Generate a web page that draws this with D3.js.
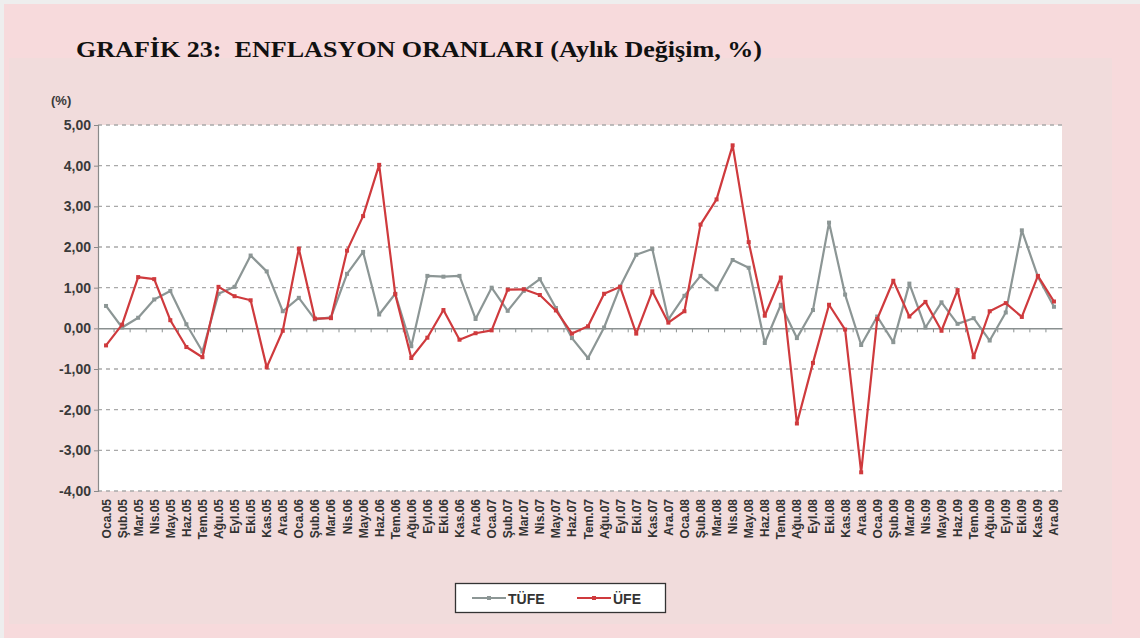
<!DOCTYPE html>
<html><head><meta charset="utf-8">
<script src="https://cdn.jsdelivr.net/npm/d3@7"></script>
<style>html,body{margin:0;padding:0;background:#eeeeee;}svg{display:block;}</style>
</head><body>
<svg id="c" width="1140" height="638"></svg>
<script>
const months = ["Oca","Şub","Mar","Nis","May","Haz","Tem","Ağu","Eyl","Eki","Kas","Ara"];
const years = ["05","06","07","08","09"];
const categories = [];
years.forEach(y => months.forEach(m => categories.push(m + "." + y)));

const tufe = [0.55,0.02,0.26,0.71,0.92,0.10,-0.57,0.85,1.02,1.79,1.40,0.42,
              0.75,0.22,0.27,1.34,1.88,0.34,0.85,-0.44,1.29,1.27,1.29,0.23,
              1.00,0.43,0.92,1.21,0.50,-0.24,-0.73,0.02,1.03,1.81,1.95,0.22,
              0.80,1.29,0.96,1.68,1.49,-0.36,0.58,-0.24,0.45,2.60,0.83,-0.41,
              0.29,-0.34,1.10,0.02,0.64,0.11,0.25,-0.30,0.39,2.41,1.27,0.53];
const ufe  = [-0.42,0.09,1.26,1.21,0.20,-0.46,-0.71,1.02,0.79,0.69,-0.96,-0.06,
              1.96,0.24,0.25,1.91,2.76,4.02,0.84,-0.73,-0.23,0.45,-0.28,-0.12,
              -0.05,0.95,0.96,0.82,0.44,-0.13,0.05,0.85,1.02,-0.13,0.91,0.14,
              0.42,2.55,3.17,4.50,2.12,0.31,1.25,-2.34,-0.85,0.58,-0.03,-3.54,
              0.23,1.17,0.29,0.65,-0.06,0.94,-0.71,0.42,0.62,0.28,1.29,0.66];
const yTicks = [5,4,3,2,1,0,-1,-2,-3,-4];
const seriesNames = ["TÜFE","ÜFE"];
const seriesColors = ["#8c9695","#cf3a3d"];

const svg = d3.select("#c");
svg.append("rect").attr("x",4).attr("y",4).attr("width",1136).attr("height",634).attr("fill","#f7dadc");
svg.append("rect").attr("x",9).attr("y",58).attr("width",1103).attr("height",566).attr("fill","#f1dcdc");

svg.append("text").attr("x",76).attr("y",57)
  .attr("font-family","'Liberation Serif','Times New Roman',serif").attr("font-weight","bold")
  .attr("font-size",24).attr("fill","#111").style("white-space","pre")
  .attr("textLength",686).attr("lengthAdjust","spacingAndGlyphs")
  .text("GRAFİK 23:  ENFLASYON ORANLARI (Aylık Değişim, %)");

const L = 98, R = 1062, T = 125, B = 491;
const x = d3.scaleBand().domain(categories).range([L, R]);
const y = d3.scaleLinear().domain([-4, 5]).range([B, T]);

svg.append("rect").attr("x",L).attr("y",T).attr("width",R-L).attr("height",B-T).attr("fill","#ffffff");

svg.append("g").selectAll("line").data(yTicks.filter(d => d !== 0)).join("line")
  .attr("x1",L).attr("x2",R).attr("y1",d=>y(d)).attr("y2",d=>y(d))
  .attr("stroke","#a9a9a9").attr("stroke-width",1.3).attr("stroke-dasharray","4,4");

const yAxis = d3.axisLeft(y).tickValues(yTicks).tickSize(4).tickPadding(3)
  .tickFormat(d => d.toFixed(2).replace(".", ","));
const gy = svg.append("g").attr("transform",`translate(${L},0)`).call(yAxis);
gy.select(".domain").attr("stroke","#8a8a8a").attr("stroke-width",1.2);
gy.selectAll(".tick line").attr("stroke","#8a8a8a");
gy.selectAll("text").attr("font-family","Arial, 'Liberation Sans', sans-serif").attr("font-size",14)
  .attr("font-weight","bold").attr("fill","#3a3a3a");

svg.append("text").attr("x",51).attr("y",105).text("(%)")
  .attr("font-family","Arial, 'Liberation Sans', sans-serif").attr("font-size",13).attr("font-weight","bold").attr("fill","#3a3a3a");

const xAxis = d3.axisBottom(x).tickSize(0).tickFormat("");
const gx0 = svg.append("g").attr("transform",`translate(0,${y(0)})`).call(xAxis);
gx0.select(".domain").attr("stroke","#8a9090").attr("stroke-width",1.5);
svg.append("g").selectAll("line").data(categories.slice(1)).join("line")
  .attr("x1",d=>x(d)).attr("x2",d=>x(d)).attr("y1",y(0)).attr("y2",y(0)+4)
  .attr("stroke","#8a9090").attr("stroke-width",1);

const gxl = svg.append("g");
gxl.selectAll("text").data(categories).join("text")
  .attr("transform", d => `translate(${x(d)+x.bandwidth()/2+4.5},${B+8}) rotate(-90)`)
  .attr("text-anchor","end")
  .attr("font-family","Arial, 'Liberation Sans', sans-serif").attr("font-size",12).attr("font-weight","bold")
  .attr("fill","#333").text(d => d);

const data = [tufe, ufe];
const line = d3.line().x((d,i)=>x(categories[i])+x.bandwidth()/2).y(d=>y(d));
data.forEach((s, k) => {
  svg.append("path").datum(s).attr("d", line).attr("fill","none")
    .attr("stroke", seriesColors[k]).attr("stroke-width",2.2).attr("stroke-linejoin","round");
  svg.append("g").selectAll("rect").data(s).join("rect")
    .attr("x",(d,i)=>x(categories[i])+x.bandwidth()/2-2).attr("y",d=>y(d)-2)
    .attr("width",4).attr("height",4).attr("fill", seriesColors[k]);
});

const lg = svg.append("g");
lg.append("rect").attr("x",455.5).attr("y",583.5).attr("width",210).attr("height",29)
  .attr("fill","#ffffff").attr("stroke","#333").attr("stroke-width",1.3);
const legX = [472, 577];
seriesNames.forEach((n,k) => {
  lg.append("line").attr("x1",legX[k]).attr("x2",legX[k]+34).attr("y1",598).attr("y2",598)
    .attr("stroke",seriesColors[k]).attr("stroke-width",2);
  lg.append("rect").attr("x",legX[k]+15).attr("y",596).attr("width",4).attr("height",4).attr("fill",seriesColors[k]);
  lg.append("text").attr("x",legX[k]+36).attr("y",603.5).text(n)
    .attr("font-family","Arial, 'Liberation Sans', sans-serif").attr("font-size",14).attr("font-weight","bold").attr("fill","#333");
});
</script>
</body></html>
